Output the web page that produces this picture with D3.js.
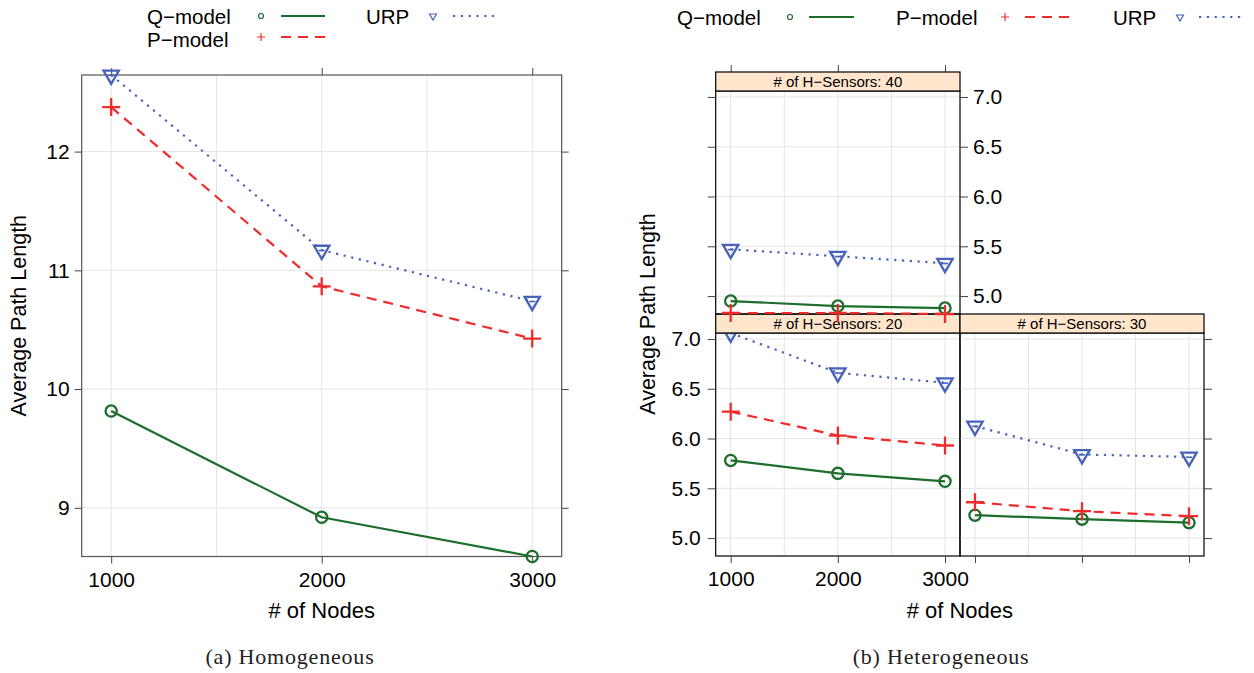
<!DOCTYPE html>
<html><head><meta charset="utf-8">
<script src="https://cdn.jsdelivr.net/npm/d3@7"></script>
<style>
body{margin:0;background:#fff}
svg{display:block}
text{font-family:"Liberation Sans",Arial,Helvetica,sans-serif;fill:#000}
text.cap{font-family:"Liberation Serif","Times New Roman",serif;letter-spacing:0.8px;fill:#222}
</style>
</head><body>
<svg id="c" width="1254" height="673"></svg>
<script>
// ---------------- data ----------------
const nodes = [1000, 2000, 3000];
const xGrid = [1000, 1500, 2000, 2500, 3000];
const seriesNames = ["Q−model", "P−model", "URP"];
const xDomain = [860, 3140];

// (a) Homogeneous
const homoQ   = [9.815, 8.92, 8.59];
const homoP   = [12.375, 10.865, 10.425];
const homoURP = [12.645, 11.17, 10.74];
const homoYTicks = [9, 10, 11, 12];

// (b) Heterogeneous, by number of H-Sensors
const sensorLevels = [20, 30, 40];
const het20Q   = [5.78, 5.65, 5.57];
const het20P   = [6.27, 6.03, 5.93];
const het20URP = [7.06, 6.66, 6.56];
const het30Q   = [5.23, 5.19, 5.155];
const het30P   = [5.36, 5.27, 5.22];
const het30URP = [6.125, 5.84, 5.815];
const het40Q   = [4.95, 4.90, 4.88];
const het40P   = [4.83, 4.83, 4.82];
const het40URP = [5.47, 5.40, 5.33];
const hetYTicks = [5.0, 5.5, 6.0, 6.5, 7.0];

const captions = ["(a) Homogeneous", "(b) Heterogeneous"];
const xTitle = "# of Nodes";
const yTitle = "Average Path Length";
const stripPrefix = "# of H−Sensors: ";

// ---------------- styles ----------------
const styles = [
  {color: "#1d6d2d", dash: null,      marker: "circle"},
  {color: "#f02b2b", dash: "10,7",    marker: "plus"},
  {color: "#4862b8", dash: "2.2,5.6", marker: "tri"}
];

const svg = d3.select("#c");

function marker(g, type, x, y, color, s, sw) {
  if (type === "circle") {
    g.append("circle").attr("cx", x).attr("cy", y).attr("r", 5.6 * s)
      .attr("fill", "none").attr("stroke", color).attr("stroke-width", sw);
  } else if (type === "plus") {
    const h = 9 * s;
    g.append("path").attr("d", `M${x - h},${y}H${x + h}M${x},${y - h}V${y + h}`)
      .attr("stroke", color).attr("stroke-width", sw).attr("fill", "none");
  } else {
    const w = 7.7 * s, t = 4.4 * s, b = 8.9 * s;
    g.append("path").attr("d", `M${x - w},${y - t}L${x + w},${y - t}L${x},${y + b}Z`)
      .attr("stroke", color).attr("stroke-width", sw).attr("fill", "none")
      .attr("stroke-linejoin", "miter");
    if (s > 0.8) {
      g.append("path").attr("d", `M${x - 3 * s},${y + 0.3}H${x + 3 * s}`)
        .attr("stroke", color).attr("stroke-width", 1.6);
    }
  }
}

function drawSeries(g, x, y, values, st) {
  const line = d3.line().x((d, i) => x(nodes[i])).y(d => y(d));
  const p = g.append("path").attr("d", line(values)).attr("fill", "none")
    .attr("stroke", st.color).attr("stroke-width", 2.2);
  if (st.dash) p.attr("stroke-dasharray", st.dash);
  values.forEach((v, i) => marker(g, st.marker, x(nodes[i]), y(v), st.color, 1, 2.3));
}

function styleAxis(sel, fontSize, color) {
  sel.select(".domain").remove();
  sel.selectAll(".tick line").attr("stroke", color).attr("stroke-width", 1);
  sel.selectAll(".tick text").attr("font-size", fontSize).attr("fill", "#000");
  sel.attr("font-family", null).attr("font-size", null);
}

function drawLegend(pos) {
  pos.forEach((p, k) => {
    const st = styles[k];
    svg.append("text").attr("x", p.tx).attr("y", p.ty).attr("font-size", 20.5).text(seriesNames[k]);
    marker(svg, st.marker, p.mx, p.sy, st.color, 0.45, 1.2);
    const l = svg.append("line").attr("x1", p.lx1).attr("x2", p.lx2).attr("y1", p.sy).attr("y2", p.sy)
      .attr("stroke", st.color).attr("stroke-width", 2.2);
    if (st.dash) l.attr("stroke-dasharray", st.dash);
  });
}

// ================= (a) Homogeneous =================
{
  const L = 81.7, R = 561.7, T = 75, B = 556.5;
  const x = d3.scaleLinear().domain(xDomain).range([L, R]);
  const all = homoQ.concat(homoP, homoURP);
  const y = d3.scaleLinear().domain(d3.extent(all)).range([B, T]);
  const g = svg.append("g");
  g.selectAll(".gx").data(xGrid).join("line").attr("x1", d => x(d)).attr("x2", d => x(d))
    .attr("y1", T).attr("y2", B).attr("stroke", "#e4e4e4").attr("stroke-width", 1);
  g.selectAll(".gy").data(homoYTicks).join("line").attr("y1", d => y(d)).attr("y2", d => y(d))
    .attr("x1", L).attr("x2", R).attr("stroke", "#e4e4e4").attr("stroke-width", 1);
  g.append("rect").attr("x", L).attr("y", T).attr("width", R - L).attr("height", B - T)
    .attr("fill", "none").attr("stroke", "#555").attr("stroke-width", 1.2);
  styleAxis(g.append("g").attr("transform", `translate(0,${B})`)
    .call(d3.axisBottom(x).tickValues(nodes).tickSize(7).tickPadding(8.5).tickFormat(d3.format("d"))), 21, "#444");
  styleAxis(g.append("g").attr("transform", `translate(0,${T})`)
    .call(d3.axisTop(x).tickValues(nodes).tickSize(7).tickFormat("")), 21, "#444");
  styleAxis(g.append("g").attr("transform", `translate(${L},0)`)
    .call(d3.axisLeft(y).tickValues(homoYTicks).tickSize(7).tickPadding(5).tickFormat(d3.format("d"))), 21, "#444");
  styleAxis(g.append("g").attr("transform", `translate(${R},0)`)
    .call(d3.axisRight(y).tickValues(homoYTicks).tickSize(7).tickFormat("")), 21, "#444");
  [homoQ, homoP, homoURP].forEach((vals, k) => drawSeries(g, x, y, vals, styles[k]));
  g.append("text").attr("x", (L + R) / 2).attr("y", 618).attr("text-anchor", "middle")
    .attr("font-size", 22).text(xTitle);
  g.append("text").attr("transform", `translate(26,${(T + B) / 2}) rotate(-90)`)
    .attr("text-anchor", "middle").attr("font-size", 21.5).text(yTitle);
  drawLegend([
    {tx: 147, ty: 24, mx: 261, lx1: 281, lx2: 325, sy: 16},
    {tx: 147, ty: 47, mx: 261, lx1: 281, lx2: 325, sy: 37},
    {tx: 366, ty: 24, mx: 433, lx1: 453, lx2: 497, sy: 16}
  ]);
  svg.append("text").attr("class", "cap").attr("x", 290).attr("y", 664).attr("text-anchor", "middle")
    .attr("font-size", 22).text(captions[0]);
}

// ================= (b) Heterogeneous =================
{
  const cols = [[715.7, 960], [960, 1204]];
  const stripH = 19;
  const rows = [{st: 72, pt: 91, pb: 314}, {st: 314, pt: 333, pb: 556}];
  const all = [het20Q, het20P, het20URP, het30Q, het30P, het30URP, het40Q, het40P, het40URP].flat();
  const yDom = d3.extent(all);
  const panels = [
    {level: sensorLevels[0], r: 1, c: 0, data: [het20Q, het20P, het20URP]},
    {level: sensorLevels[1], r: 1, c: 1, data: [het30Q, het30P, het30URP]},
    {level: sensorLevels[2], r: 0, c: 0, data: [het40Q, het40P, het40URP]}
  ];
  const root = svg.append("g");
  panels.forEach(pn => {
    const [L, R] = cols[pn.c];
    const row = rows[pn.r];
    const T = row.pt, B = row.pb;
    const x = d3.scaleLinear().domain(xDomain).range([L, R]);
    const y = d3.scaleLinear().domain(yDom).range([B, T]);
    const g = root.append("g");
    g.selectAll(".gx").data(xGrid).join("line").attr("x1", d => x(d)).attr("x2", d => x(d))
      .attr("y1", T).attr("y2", B).attr("stroke", "#e4e4e4");
    g.selectAll(".gy").data(hetYTicks).join("line").attr("y1", d => y(d)).attr("y2", d => y(d))
      .attr("x1", L).attr("x2", R).attr("stroke", "#e4e4e4");
    g.append("rect").attr("x", L).attr("y", T).attr("width", R - L).attr("height", B - T)
      .attr("fill", "none").attr("stroke", "#000").attr("stroke-width", 1.2);
    if (pn.r === 1) {
      styleAxis(g.append("g").attr("transform", `translate(0,${B})`)
        .call(d3.axisBottom(x).tickValues(nodes).tickSize(7).tickPadding(8.5)
          .tickFormat(pn.c === 0 ? d3.format("d") : "")), 21, "#444");
    } else {
      styleAxis(g.append("g").attr("transform", `translate(0,${row.st})`)
        .call(d3.axisTop(x).tickValues(nodes).tickSize(7).tickFormat("")), 21, "#444");
    }
    if (pn.c === 0) {
      styleAxis(g.append("g").attr("transform", `translate(${L},0)`)
        .call(d3.axisLeft(y).tickValues(hetYTicks).tickSize(8).tickPadding(7)
          .tickFormat(pn.r === 1 ? d3.format(".1f") : "")), 21, "#444");
    }
    if (pn.r === 0) {
      styleAxis(g.append("g").attr("transform", `translate(${R},0)`)
        .call(d3.axisRight(y).tickValues(hetYTicks).tickSize(8).tickPadding(5)
          .tickFormat(d3.format(".1f"))), 21, "#444");
    }
    if (pn.c === 1) {
      styleAxis(g.append("g").attr("transform", `translate(${R},0)`)
        .call(d3.axisRight(y).tickValues(hetYTicks).tickSize(8).tickFormat("")), 21, "#444");
    }
    pn.data.forEach((vals, k) => drawSeries(g, x, y, vals, styles[k]));
    g.append("rect").attr("x", L).attr("y", row.st).attr("width", R - L).attr("height", stripH)
      .attr("fill", "#ffe5cc").attr("stroke", "#000").attr("stroke-width", 1.2);
    g.append("text").attr("x", (L + R) / 2).attr("y", row.st + 14.5).attr("text-anchor", "middle")
      .attr("font-size", 15).text(stripPrefix + pn.level);
  });
  const mid = (cols[0][0] + cols[1][1]) / 2;
  svg.append("text").attr("x", mid).attr("y", 618).attr("text-anchor", "middle")
    .attr("font-size", 22).text(xTitle);
  svg.append("text").attr("transform", `translate(655,${(rows[0].st + rows[1].pb) / 2}) rotate(-90)`)
    .attr("text-anchor", "middle").attr("font-size", 21.5).text(yTitle);
  drawLegend([
    {tx: 677, ty: 25, mx: 790, lx1: 809, lx2: 854, sy: 17},
    {tx: 896, ty: 25, mx: 1005, lx1: 1025, lx2: 1070, sy: 17},
    {tx: 1113, ty: 25, mx: 1180, lx1: 1199, lx2: 1242, sy: 17}
  ]);
  svg.append("text").attr("class", "cap").attr("x", 941).attr("y", 664).attr("text-anchor", "middle")
    .attr("font-size", 22).text(captions[1]);
}
</script>
</body></html>
